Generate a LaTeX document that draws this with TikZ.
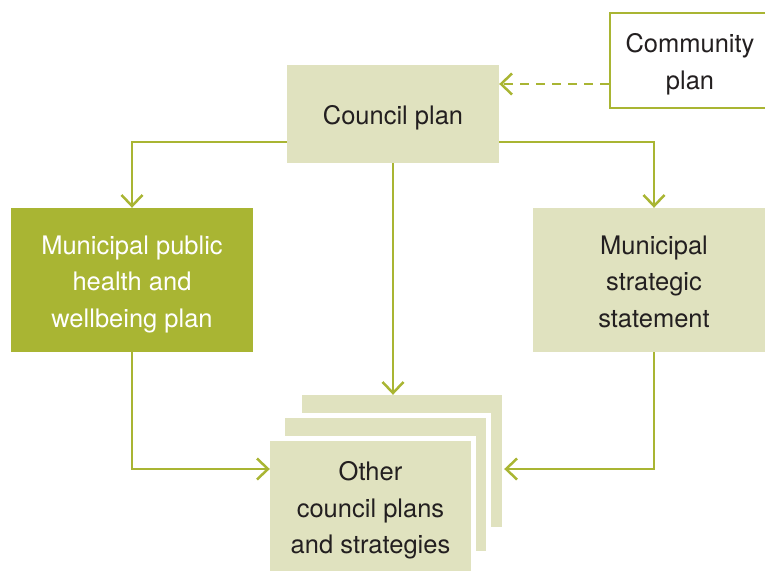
\documentclass[tikz,border=0pt]{standalone}
\usepackage{fontspec}
\setmainfont{TeX Gyre Heros}
\usetikzlibrary{arrows.meta}
\definecolor{lgreen}{RGB}{169,181,51}
\definecolor{lpale}{RGB}{224,226,191}
\definecolor{txt}{RGB}{35,31,32}
\newcommand\topstrut{\rule{0pt}{27pt}}
\newcommand\botstrut{\rule[-6pt]{0pt}{6pt}}
\begin{document}
\begin{tikzpicture}[x=1pt,y=-1pt,
  box/.style={inner sep=0pt, align=center, text=txt,
    font=\fontsize{25.5}{36.5}\selectfont},
  palebox/.style={box, fill=lpale},
  sheet/.style={box, fill=lpale, preaction={draw=white, line width=10pt}},
  conn/.style={draw=lgreen, line width=2.5pt,
    -{Straight Barb[length=11pt,width=21pt,line width=2.5pt]}}
]
\useasboundingbox (0,0) rectangle (765,570);

\node[palebox, minimum width=212pt, minimum height=98pt] (council) at (393,114) {\topstrut Council plan\botstrut};
\node[box, draw=lgreen, line width=2.5pt, fill=white, minimum width=160pt, minimum height=95pt] (community) at (690,60.5) {\topstrut Community\\plan\botstrut};
\node[box, fill=lgreen, text=white, minimum width=242pt, minimum height=144pt] (mph) at (132,280) {\topstrut Municipal public\\health and\\wellbeing plan\botstrut};
\node[palebox, minimum width=242pt, minimum height=144pt] (mss) at (654,280) {\topstrut Municipal\\strategic\\statement\botstrut};

\node[sheet, minimum width=200pt, minimum height=132pt] (back) at (402,461) {};
\node[sheet, minimum width=201pt, minimum height=133pt] (middle) at (385.5,484.5) {};
\node[sheet, minimum width=201pt, minimum height=131pt] (front) at (370.5,506.5) {\topstrut Other\\council plans\\and strategies\botstrut};

\coordinate (cw) at ([yshift=-23.5pt]community.west);
\draw[conn, dash pattern=on 9pt off 7pt] (cw) -- (cw -| council.east);

\draw[conn] ([yshift=-28pt]council.west) -| (mph.north);
\draw[conn] ([yshift=-28pt]council.east) -| (mss.north);
\draw[conn] (council.south) -- (council.south |- back.north);
\draw[conn] (mph.south) |- ([yshift=37.5pt]front.west);
\draw[conn] (mss.south) |- ([xshift=2pt,yshift=-8pt]back.east);
\end{tikzpicture}
\end{document}
